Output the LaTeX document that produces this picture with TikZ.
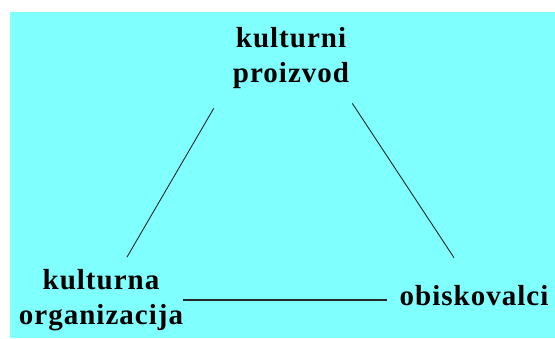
\documentclass[tikz,border=0pt]{standalone}
\usepackage{fontspec}
\setmainfont{Liberation Serif}
\newfontfamily\kulturafont[LetterSpace=3.5]{Liberation Serif}
\definecolor{kulturaCyan}{RGB}{128,255,255}
\definecolor{kulturaLine}{RGB}{35,40,40}
\usetikzlibrary{positioning,calc}

\begin{document}
\begin{tikzpicture}[x=1pt, y=-1pt,
  label/.style={inner sep=0pt, font=\kulturafont\fontsize{29}{35}\selectfont\bfseries, align=center},
  link/.style={draw=kulturaLine, line width=0.9pt}
]
  % background with the white margin at top and left
  \useasboundingbox (0,0) rectangle (555,338);
  \fill[kulturaCyan] (10,12) rectangle (555,338);

  \node[label] (produkt) at (291,58.5) {kulturni\\proizvod};
  \node[label] (organizacija) at (101,300) {kulturna\\organizacija};
  \node[label, anchor=base] (obiskovalci) at (474,305) {obiskovalci};

  \draw[link] ([shift={(-19pt,-19pt)}]produkt.south west) -- ([shift={(26pt,12pt)}]organizacija.north);
  \draw[link] ([shift={(3pt,-14pt)}]produkt.south east) -- ([shift={(-20pt,27pt)}]obiskovalci.north);
  \draw[link, line width=1.4pt, shorten <=0pt, shorten >=12pt]
    (organizacija.east) -- (organizacija.east -| obiskovalci.west);
\end{tikzpicture}
\end{document}
